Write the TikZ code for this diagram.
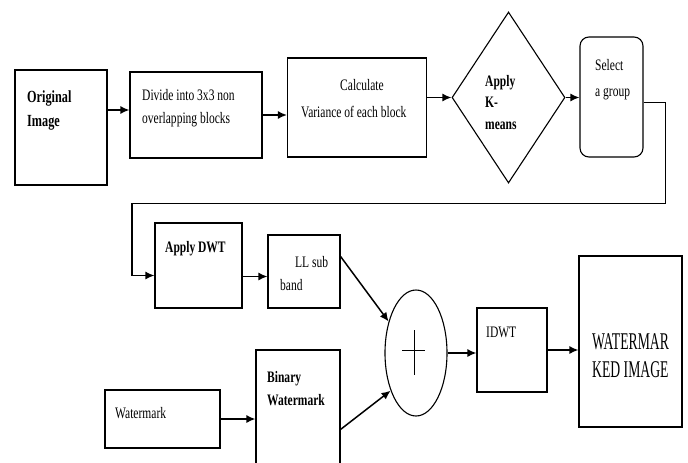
\documentclass[tikz,border=0pt]{standalone}
\usepackage{fontspec}
\setmainfont{Liberation Serif}[FakeStretch=0.72]
\newfontfamily\widefont{Liberation Serif}[FakeStretch=0.57]
\usepackage{tikz}
\usetikzlibrary{arrows.meta, shapes.geometric, calc, positioning}

\tikzset{
    blk/.style={draw, line width=1.1pt, inner sep=0pt},
    arr/.style={-{Latex[length=9pt,width=8pt]}, line width=1.5pt},
    link/.style={line width=0.8pt},
    txt/.style={inner sep=0pt, align=left, anchor=north west, font=\fontsize{16}{24}\selectfont}
}

\begin{document}
\begin{tikzpicture}[x=1pt, y=-1pt]
    \useasboundingbox (0,0) rectangle (688,463);

    % top row
    \node[blk, minimum width=92, minimum height=115] (orig) at (61,127.5) {};
    \node[blk, minimum width=132, minimum height=86] (divide) at (196,115) {};
    \node[blk, minimum width=139, minimum height=99] (calc) at (357,107.5) {};
    \node[blk, diamond, minimum width=113, minimum height=171] (kmeans) at (508.5,97.5) {};
    \node[blk, rounded corners=9pt, minimum width=63, minimum height=120] (select) at (611.5,97) {};

    % bottom rows
    \node[blk, minimum width=87, minimum height=85] (dwt) at (198.5,265.5) {};
    \node[blk, minimum width=72, minimum height=73] (llsub) at (304,271.5) {};
    \node[blk, minimum width=84, minimum height=125] (binwm) at (298,412.5) {};
    \node[blk, minimum width=115, minimum height=58] (wm) at (162.5,419) {};
    \node[blk, ellipse, minimum width=62, minimum height=126] (sum) at (416,353) {};
    \node[blk, minimum width=70, minimum height=84] (idwt) at (512,350) {};
    \node[blk, minimum width=103, minimum height=171] (out) at (630.5,341.5) {};

    % texts
    \node[txt, font=\fontsize{17}{24}\selectfont\bfseries] (origT) at (27,91) {Original\\Image};
    \node[txt, font=\fontsize{16}{23}\selectfont] (divideT) at (142,89) {Divide into 3x3 non\\overlapping blocks};
    \node[txt, font=\fontsize{16}{27}\selectfont] (calcT) at (301,79) {\hspace*{39pt}Calculate\\Variance of each block};
    \node[txt, font=\fontsize{16}{21.5}\selectfont\bfseries] (kmeansT) at (485,75) {Apply\\K-\\means};
    \node[txt, font=\fontsize{16}{26}\selectfont] (selectT) at (595,59) {Select\\a group};
    \node[txt, font=\fontsize{16}{24}\selectfont\bfseries] (dwtT) at (165,241) {Apply DWT};
    \node[txt, font=\fontsize{16}{23}\selectfont] (llsubT) at (280,256) {\hspace*{15pt}LL sub\\band};
    \node[txt, font=\fontsize{16}{23}\selectfont\bfseries] (binwmT) at (267,371) {Binary\\Watermark};
    \node[txt] (wmT) at (115,407) {Watermark};
    \node[txt] (idwtT) at (486,327) {IDWT};
    \node[txt, font=\fontsize{24}{28}\widefont] (outT) at (592,333) {WATERMAR\\KED IMAGE};

    % plus sign
    \draw[line width=0.8pt]
    ($(sum) + (-14,-3)$) -- ($(sum) + (9,-3)$)
    ($(sum) + (-2,-23)$) -- ($(sum) + (-2,22)$);

    % connectors
    \coordinate (a1) at ($(divide.west) + (0,-5)$);
    \coordinate (a2) at ($(dwt.east) + (0,11)$);
    \coordinate (c1) at (665,203);
    \coordinate (c2) at (132,203);

    \draw[arr] (a1 -| orig.east) -- (a1);
    \draw[arr] (divide.east) -- (divide.east -| calc.west);
    \draw[arr] (calc.east |- kmeans.west) -- (kmeans.west);
    \draw[arr] (kmeans.east) -- (kmeans.east -| select.west);
    \draw[link] ($(select.east) + (0,5)$) -| (c1) -- (c2);
    \draw[arr] (c2) |- ($(dwt.west) + (0,10)$);
    \draw[arr] (a2) -- (a2 -| llsub.west);
    \draw[arr] ($(llsub.north east) + (0,22)$) -- (sum.131);
    \draw[arr] (wm.east) -- (wm.east -| binwm.west);
    \draw[arr] ($(binwm.north east) + (0,80)$) -- (sum.-124);
    \draw[arr] (sum.east) -- (sum.east -| idwt.west);
    \draw[arr] (idwt.east) -- (idwt.east -| out.west);
\end{tikzpicture}
\end{document}
